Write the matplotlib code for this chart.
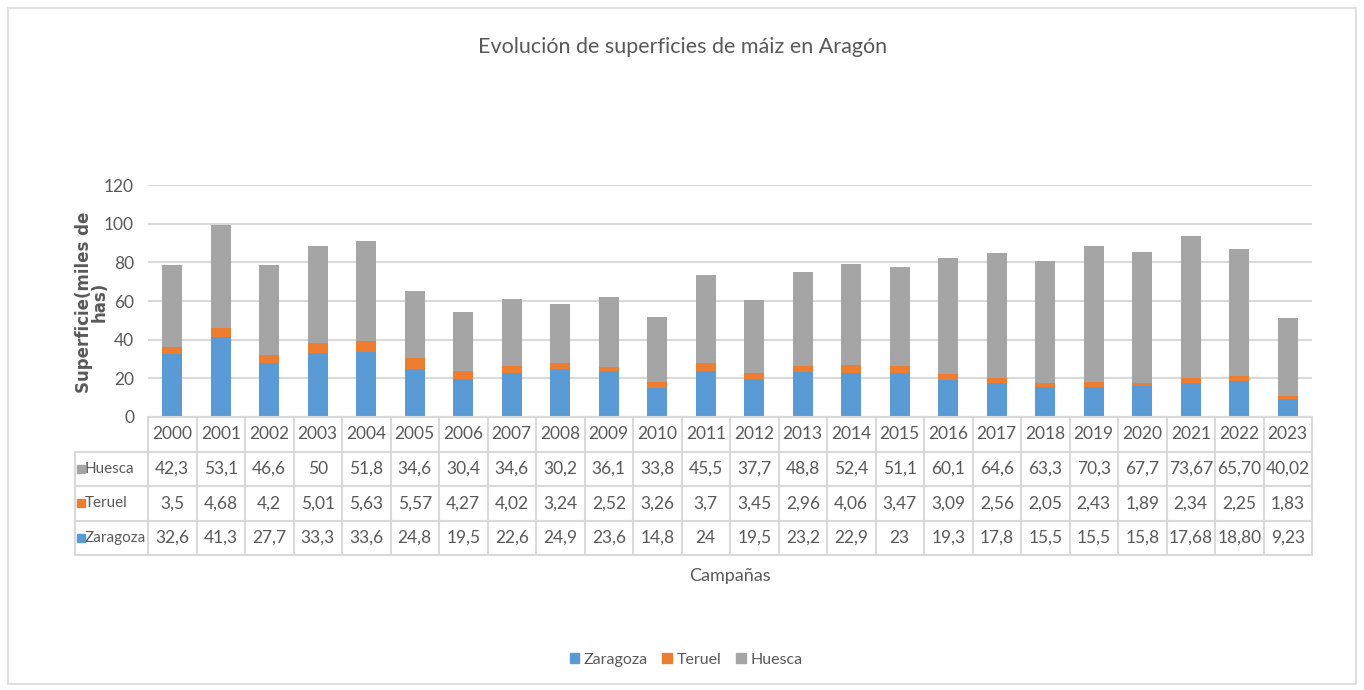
import matplotlib
matplotlib.use("Agg")
import matplotlib.pyplot as plt
from matplotlib.patches import Rectangle
import numpy as np

plt.rcParams['font.family'] = ['Lato', 'DejaVu Sans']

# data (miles de ha)
campanas = [str(y) for y in range(2000, 2024)]
zaragoza = [32.6, 41.3, 27.7, 33.3, 33.6, 24.8, 19.5, 22.6, 24.9, 23.6, 14.8, 24,
            19.5, 23.2, 22.9, 23, 19.3, 17.8, 15.5, 15.5, 15.8, 17.68, 18.80, 9.23]
teruel = [3.5, 4.68, 4.2, 5.01, 5.63, 5.57, 4.27, 4.02, 3.24, 2.52, 3.26, 3.7,
          3.45, 2.96, 4.06, 3.47, 3.09, 2.56, 2.05, 2.43, 1.89, 2.34, 2.25, 1.83]
huesca = [42.3, 53.1, 46.6, 50, 51.8, 34.6, 30.4, 34.6, 30.2, 36.1, 33.8, 45.5,
          37.7, 48.8, 52.4, 51.1, 60.1, 64.6, 63.3, 70.3, 67.7, 73.67, 65.70, 40.02]
# labels as printed in the table
zaragoza_txt = ["32,6", "41,3", "27,7", "33,3", "33,6", "24,8", "19,5", "22,6", "24,9", "23,6",
                "14,8", "24", "19,5", "23,2", "22,9", "23", "19,3", "17,8", "15,5", "15,5",
                "15,8", "17,68", "18,80", "9,23"]
teruel_txt = ["3,5", "4,68", "4,2", "5,01", "5,63", "5,57", "4,27", "4,02", "3,24", "2,52",
              "3,26", "3,7", "3,45", "2,96", "4,06", "3,47", "3,09", "2,56", "2,05", "2,43",
              "1,89", "2,34", "2,25", "1,83"]
huesca_txt = ["42,3", "53,1", "46,6", "50", "51,8", "34,6", "30,4", "34,6", "30,2", "36,1",
              "33,8", "45,5", "37,7", "48,8", "52,4", "51,1", "60,1", "64,6", "63,3", "70,3",
              "67,7", "73,67", "65,70", "40,02"]

c_zar, c_ter, c_hue = "#5B9BD5", "#ED7D31", "#A5A5A5"
txt_col = "#595959"
grid_col = "#D9D9D9"

W, H = 1364, 690
fig = plt.figure(figsize=(W / 100, H / 100), dpi=100)


def px(x0, y0, x1, y1):
    return [x0 / W, 1 - y1 / H, (x1 - x0) / W, (y1 - y0) / H]


# outer frame
fig.patches.append(Rectangle((8 / W, 1 - 684 / H), 1348 / W, 676 / H, transform=fig.transFigure,
                             fill=False, edgecolor=grid_col, lw=1.2))

ax = fig.add_axes(px(148, 185, 1312, 417))
n = len(campanas)
x = np.arange(n)
bw = 0.42
ax.bar(x, zaragoza, bw, color=c_zar, zorder=3)
ax.bar(x, teruel, bw, bottom=zaragoza, color=c_ter, zorder=3)
ax.bar(x, huesca, bw, bottom=np.array(zaragoza) + np.array(teruel), color=c_hue, zorder=3)
ax.set_xlim(-0.5, n - 0.5)
ax.set_ylim(0, 120)
ax.set_yticks(range(0, 121, 20))
ax.tick_params(axis='y', length=0, labelsize=12.5, labelcolor=txt_col, pad=10)
ax.set_xticks([])
ax.grid(axis='y', color=grid_col, lw=1.5, zorder=0)
for s in ax.spines.values():
    s.set_visible(False)

# y label, two lines
ylab = dict(rotation=90, ha='center', va='center', fontsize=12, fontweight='bold',
            color=txt_col, family=['DejaVu Sans'])
fig.text(84 / W, 1 - 302 / H, "Superficie(miles de", **ylab)
fig.text(100 / W, 1 - 302 / H, "has)", **ylab)

# data table
ppu = (1312 - 148) / n
left_units = (148 - 75) / ppu
tab = fig.add_axes(px(75, 417, 1312, 555))
tab.set_xlim(-0.5 - left_units, n - 0.5)
tab.set_ylim(4, 0)
tab.axis('off')
lc = dict(color=grid_col, lw=1.5, clip_on=False)
# header row
tab.plot([-0.5, n - 0.5], [0, 0], **lc)
for r in range(1, 5):
    tab.plot([-0.5 - left_units, n - 0.5], [r, r], **lc)
for i in range(n + 1):
    tab.plot([i - 0.5, i - 0.5], [0, 4], **lc)
tab.plot([-0.5 - left_units] * 2, [1, 4], **lc)
fs = 12.5
for i in range(n):
    tab.text(i, 0.5, campanas[i], ha='center', va='center', fontsize=fs, color=txt_col)
rows = [("Huesca", c_hue, huesca_txt), ("Teruel", c_ter, teruel_txt), ("Zaragoza", c_zar, zaragoza_txt)]
for r, (name, col, vals) in enumerate(rows):
    yy = r + 1.5
    tab.plot(-0.5 - left_units + 0.12, yy, 's', color=col, ms=5.5, clip_on=False)
    tab.text(-0.5 - left_units + 0.2, yy, name, ha='left', va='center', fontsize=11, color=txt_col)
    for i in range(n):
        tab.text(i, yy, vals[i], ha='center', va='center', fontsize=fs, color=txt_col)

fig.text(730 / W, 1 - 576 / H, "Campañas", ha='center', va='center', fontsize=13, color=txt_col)
fig.text(683 / W, 1 - 47 / H, "Evolución de superficies de máiz en Aragón", ha='center', va='center',
         fontsize=15.5, color=txt_col)

# legend
handles = [Rectangle((0, 0), 1, 1, color=c) for c in (c_zar, c_ter, c_hue)]
fig.legend(handles, ["Zaragoza", "Teruel", "Huesca"], loc='center', bbox_to_anchor=(686 / W, 1 - 660 / H),
           ncol=3, frameon=False, fontsize=11.5, handlelength=0.6, handleheight=0.6, handletextpad=0.3,
           columnspacing=0.9, labelcolor=txt_col)

fig.savefig("out.png", dpi=100)
